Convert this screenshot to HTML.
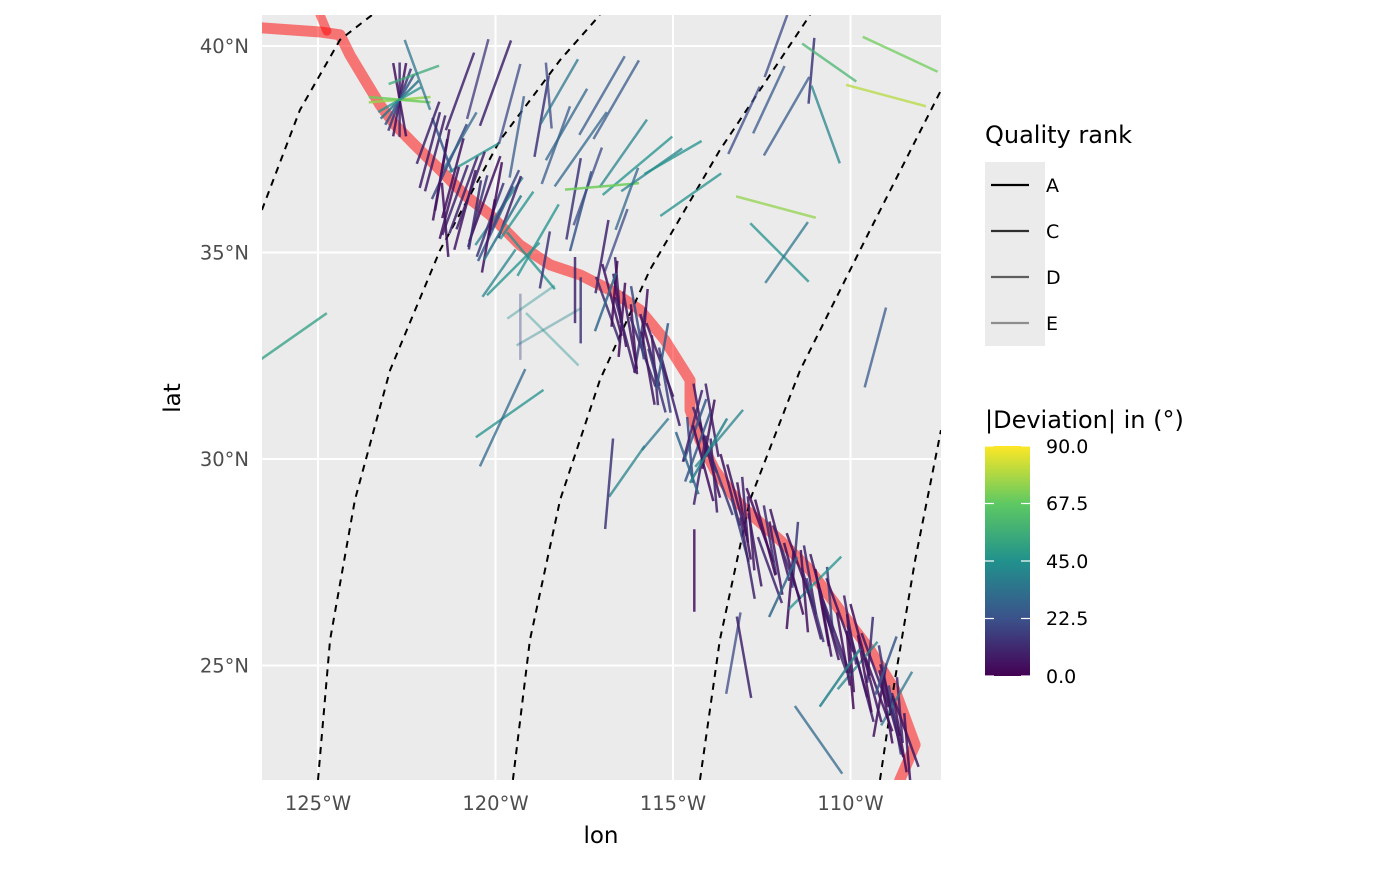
<!DOCTYPE html>
<html><head><meta charset="utf-8"><style>
body{margin:0;background:#fff;}
svg text{font-family:"DejaVu Sans","Liberation Sans",sans-serif;}
</style></head><body>
<svg id="chart" width="1400" height="865" xmlns="http://www.w3.org/2000/svg">
<defs>
<linearGradient id="vir" x1="0" y1="1" x2="0" y2="0">
<stop offset="0" stop-color="#440154"/><stop offset="0.25" stop-color="#3b528b"/><stop offset="0.5" stop-color="#21918c"/><stop offset="0.75" stop-color="#5ec962"/><stop offset="1" stop-color="#fde725"/>
</linearGradient>
<clipPath id="pc"><rect x="262" y="15" width="679" height="765"/></clipPath>
</defs>
<rect x="262" y="15" width="679" height="765" fill="#ebebeb"/>
<g id="grid"></g>
<g id="marks" clip-path="url(#pc)"></g>
<g id="axes"></g>
<text x="601" y="843" font-size="23" text-anchor="middle">lon</text>
<text transform="translate(180,398) rotate(-90)" font-size="23" text-anchor="middle">lat</text>
<g>
<text x="985" y="143" font-size="24">Quality rank</text>
<rect x="985" y="162" width="60" height="184" fill="#ebebeb"/>
<line x1="991" y1="185" x2="1029" y2="185" stroke="#000" stroke-width="2.2"/>
<line x1="991" y1="231" x2="1029" y2="231" stroke="#000" stroke-opacity="0.8" stroke-width="2.2"/>
<line x1="991" y1="277" x2="1029" y2="277" stroke="#000" stroke-opacity="0.6" stroke-width="2.2"/>
<line x1="991" y1="323" x2="1029" y2="323" stroke="#000" stroke-opacity="0.4" stroke-width="2.2"/>
<text x="1046" y="192" font-size="19">A</text>
<text x="1046" y="238" font-size="19">C</text>
<text x="1046" y="284" font-size="19">D</text>
<text x="1046" y="330" font-size="19">E</text>
</g>
<g>
<text x="985" y="428" font-size="24">|Deviation| in (°)</text>
<rect x="985" y="446" width="45" height="230" fill="url(#vir)"/>
<g stroke="#fff" stroke-width="1.2">
<line x1="985" y1="446" x2="994" y2="446"/><line x1="1021" y1="446" x2="1030" y2="446"/>
<line x1="985" y1="503.5" x2="994" y2="503.5"/><line x1="1021" y1="503.5" x2="1030" y2="503.5"/>
<line x1="985" y1="561" x2="994" y2="561"/><line x1="1021" y1="561" x2="1030" y2="561"/>
<line x1="985" y1="618.5" x2="994" y2="618.5"/><line x1="1021" y1="618.5" x2="1030" y2="618.5"/>
<line x1="985" y1="676" x2="994" y2="676"/><line x1="1021" y1="676" x2="1030" y2="676"/>
</g>
<g font-size="19">
<text x="1046" y="453">90.0</text>
<text x="1046" y="510">67.5</text>
<text x="1046" y="568">45.0</text>
<text x="1046" y="625">22.5</text>
<text x="1046" y="683">0.0</text>
</g>
</g>
</svg>
<script>
const lonTicks=[-125,-120,-115,-110];
const lonTickLabels=["125°W","120°W","115°W","110°W"];
const latTicks=[25,30,35,40];
const latTickLabels=["25°N","30°N","35°N","40°N"];
const boundaryLon=[-126.58,-124.94,-124.38,-124.10,-123.68,-123.25,-122.83,-122.27,-121.56,-120.86,-120.15,-119.31,-118.46,-117.62,-116.77,-115.93,-115.23,-114.52,-114.52,-114.24,-113.82,-113.11,-111.99,-111.14,-110.30,-109.45,-108.75,-108.18,-108.61];
const boundaryLat=[40.44,40.34,40.27,39.78,39.18,38.57,38.09,37.60,37.00,36.39,35.91,35.18,34.70,34.46,34.09,33.61,32.88,31.91,31.19,30.46,29.73,28.89,28.04,27.31,26.34,25.38,24.41,23.08,22.23];
const circlesLon=[[-126.58,-125.51,-124.38,-123.48],[-125,-124.66,-123.96,-122.97,-121.56,-119.87,-118.18,-117.06],[-119.51,-119.03,-118.18,-117.06,-115.65,-113.68,-111.14],[-114.24,-113.68,-112.83,-111.42,-109.45,-107.45],[-109.17,-108.75,-108.18,-107.45]];
const circlesLat=[[36.03,38.45,40.15,40.75],[22.23,25.62,29.01,32.15,35.06,37.72,39.66,40.75],[22.23,25.62,29.01,31.91,34.58,37.48,40.75],[22.23,25.62,29.01,32.15,35.54,38.93],[22.23,24.65,27.55,30.70]];
// stress measurements (group 1)
const segLon=[-122.7,-122.7,-122.7,-122.7,-122.7,-122.7,-122.7,-122.7,-122.7,-122.3,-122.2,-121.7,-121.5,-121.3,-121.0,-121.5,-120.9,-120.5,-120.3,-120.0,-119.9,-119.6,-119.4,-120.6,-121.0,-120.5,-120.0,-119.6,-119.4,-118.7,-118.5,-118.3,-118.0,-118.2,-117.6,-117.8,-117.6,-117.4,-117.0,-116.6,-116.4,-116.0,-117.0,-116.3,-115.6,-115.0,-114.5,-119.0,-118.8,-119.9,-119.5,-119.0,-118.5,-118.4,-119.3,-117.6,-117.0,-116.6,
-112.1,-112.3,-113.0,-111.8,-111.1,-110.7,-110.6,-108.6,-109.0,-112.1,-112.0,-111.8,-109.3,-125.8,-119.6,-119.8,-116.3,-116.8,-114.4,-113.3,-113.0,-110.9,-115.5,
-116.72,-116.55,-116.44,-116.83,-116.21,-115.93,-115.65,-115.51,-115.37,-115.23,-115.79,-115.08,
-114.24,-114.10,-114.52,-113.96,-114.24,-113.68,-114.38,-113.90,
-113.39,-112.97,-112.55,-112.27,-111.99,-111.56,-111.42,-111.14,-110.86,-110.58,-110.30,-110.01,-109.73,-109.45,-109.31,-109.03,-108.89,-108.61,-108.46,-108.75,-109.17,-109.59,-110.01,-110.44,-110.72,-111.00,-111.70,-112.27,-112.69,-113.11,
-121.85,-121.56,-121.14,-120.86,-120.58,-120.15,-119.73,-121.42,-117.76,-118.61,
-113.7,-111.0,-109.8,-108.7];
const segLat=[38.7,38.7,38.7,38.7,38.7,38.7,38.7,38.7,38.7,39.3,39.3,37.4,37.0,37.2,37.7,37.6,36.4,36.0,36.3,35.7,36.0,36.1,35.9,37.3,38.9,39.2,39.1,38.6,37.8,38.3,38.8,37.6,38.1,38.9,37.5,36.3,36.0,36.6,38.8,38.7,37.4,37.1,36.6,36.3,37.0,37.3,36.4,34.8,35.3,34.5,34.6,33.8,33.2,32.9,33.2,33.6,34.9,35.3,
40.0,38.7,38.2,38.3,39.4,38.1,39.6,39.8,38.8,36.1,35.0,35.0,32.7,32.9,31.1,31.0,29.7,29.4,27.3,25.3,25.2,23.2,30.6,
33.85,34.09,33.37,33.61,33.12,32.88,32.64,32.15,32.40,31.91,33.37,31.67,
30.94,30.46,30.22,29.98,29.73,29.49,30.70,30.94,
29.25,28.77,28.40,28.04,27.92,27.68,27.31,27.07,26.83,26.59,26.22,25.86,25.62,25.38,24.89,24.65,24.16,23.92,23.44,23.68,24.16,24.41,24.89,25.62,26.10,26.34,26.83,27.31,27.80,28.28,
37.48,36.76,36.27,36.03,35.91,35.79,36.27,35.79,34.09,34.82,
30.5,27.0,25.0,24.2];
const segAzimuth=[0,10,20,30,45,350,85,95,60,70,160,15,10,25,30,160,20,15,20,25,35,20,35,60,20,15,20,15,10,10,355,20,30,30,35,10,15,20,30,30,35,50,85,20,55,60,55,140,30,35,45,55,60,135,0,0,10,20,
20,25,25,30,5,160,125,115,105,105,135,35,15,55,55,25,35,5,0,10,170,145,40,
345,355,5,340,350,10,345,355,340,350,5,345,
350,340,355,345,10,340,20,350,
345,355,340,350,345,5,340,350,345,355,340,350,345,5,340,350,345,355,340,350,10,345,355,340,350,345,5,340,350,345,
15,10,20,15,10,20,25,355,0,10,
40,45,40,30];
const segLength=[1.8,1.8,1.6,1.4,1.3,1.8,1.5,1.5,1.2,1.3,1.8,1.9,2.0,2.0,1.6,1.4,2.0,1.8,2.2,2.0,2.0,1.6,1.4,1.4,2.0,2.0,2.2,2.0,2.0,2.0,1.6,2.0,2.0,1.8,2.2,2.0,2.0,2.0,2.2,2.2,2.0,2.2,1.8,1.6,1.8,1.6,1.8,1.8,2.0,1.4,1.8,1.4,1.8,1.8,1.6,1.6,1.8,1.6,
1.6,1.8,1.8,2.2,1.6,2.0,1.6,2.0,2.0,2.0,2.0,1.8,2.0,2.2,2.0,2.6,1.5,2.2,2.0,2.0,2.0,2.0,1.0,
1.8,1.6,1.8,1.7,1.9,1.6,1.8,1.7,1.9,1.6,1.5,1.8,
1.8,1.7,1.6,1.9,1.7,1.8,1.6,1.8,
1.8,1.6,1.9,1.7,1.8,1.6,1.9,1.7,1.8,1.6,1.9,1.7,1.8,1.6,1.9,1.7,1.8,1.6,1.9,1.7,1.8,1.6,1.9,1.7,1.8,1.6,1.9,1.7,1.8,1.6,
1.9,2.0,1.8,2.0,1.7,1.9,1.6,1.8,1.6,1.4,
1.8,1.8,1.5,1.5];
const segDeviation=[10,5,15,25,35,5,75,70,45,55,35,8,5,20,30,25,10,15,5,25,40,10,45,45,10,15,10,20,25,15,20,25,30,35,30,15,25,20,25,25,40,45,70,30,40,45,45,45,45,40,45,45,40,45,20,15,10,20,
20,25,20,25,15,40,60,70,80,75,45,35,25,50,45,30,40,15,5,20,10,30,35,
5,8,3,12,6,15,4,10,7,18,5,9,
6,12,20,4,10,15,25,8,
5,9,3,12,6,15,4,10,7,18,5,9,3,12,6,15,4,10,7,18,5,9,3,12,6,15,4,10,7,18,
8,5,10,6,12,15,20,5,10,15,
40,45,40,35];
const segQuality=["C","C","C","C","C","C","C","C","D","D","D","C","C","C","D","C","C","C","C","C","D","C","D","D","C","D","C","D","D","C","D","D","D","D","D","C","C","D","D","D","D","D","C","D","D","D","D","D","D","D","D","E","E","E","E","C","C","D",
"D","D","D","D","C","D","D","D","D","D","D","D","D","D","D","D","D","C","C","D","C","D","D",
"C","C","C","C","C","C","C","C","C","C","C","C",
"C","C","C","C","C","C","C","C",
"C","C","C","C","C","C","C","C","C","C","C","C","C","C","C","C","C","C","C","C","C","C","C","C","C","C","C","C","C","C",
"C","C","C","C","C","C","C","C","C","C",
"D","D","D","D"];
// stress measurements (group 2, dense boundary zone)
const denseLon=[-116.5,-116.35,-116.1,-115.85,-115.7,-115.45,-116.65,-116.0,-115.3,-116.9,
-114.45,-114.3,-114.0,-114.15,-113.85,-114.6,-114.0,
-113.2,-113.0,-112.8,-112.4,-112.1,-111.8,-111.6,-111.3,-111.1,-110.8,-110.6,-110.4,-110.2,-110.0,-109.8,-109.6,-109.4,-109.2,-109.0,-108.8,-108.6,-108.4,-112.9,-111.9,-110.3,-109.0,
-121.2,-120.7,-120.2,-119.8,-121.9,-121.3,-120.0];
const denseLat=[33.6,33.0,32.9,32.6,32.2,31.9,34.0,33.3,32.5,33.8,
30.8,30.3,30.6,29.9,29.6,29.9,30.2,
29.0,28.5,28.2,28.1,27.6,27.5,27.1,26.8,26.5,26.4,26.0,25.7,25.4,25.3,25.1,24.8,24.5,24.3,24.0,23.7,23.3,23.0,27.6,26.9,24.7,25.0,
36.8,36.5,35.4,35.6,37.9,36.2,36.3];
const denseAzimuth=[350,345,355,340,350,345,5,350,10,20,
15,20,10,345,355,340,30,
345,350,355,345,350,340,345,355,345,350,345,340,350,355,345,350,345,340,350,345,350,355,350,25,35,20,
15,20,10,30,20,15,10];
const denseLength=[1.8,1.9,1.7,1.8,1.8,1.6,1.6,1.8,1.6,1.5,
1.8,1.8,1.7,1.9,1.8,1.6,1.8,
1.8,1.9,1.8,1.9,1.8,1.9,1.8,2.0,1.8,1.9,1.8,1.9,1.8,1.9,1.8,1.9,1.8,1.9,1.8,1.9,1.8,1.7,2.0,1.6,1.7,1.5,
2.0,2.0,1.8,1.8,1.6,1.8,1.8];
const denseDeviation=[5,8,4,12,6,15,3,20,25,30,
10,25,5,4,8,30,40,
5,4,7,3,6,10,4,5,8,3,6,9,4,5,7,3,6,5,4,6,3,5,10,30,40,25,
5,8,5,35,10,5,3];

const X=lon=>318+(lon+125)*35.5;
const Y=lat=>46+(40-lat)*41.3;
const NS="http://www.w3.org/2000/svg";
function mk(tag,attrs,parent){const e=document.createElementNS(NS,tag);for(const k in attrs)e.setAttribute(k,attrs[k]);parent.appendChild(e);return e;}
const stops=[[0x44,0x01,0x54],[0x3b,0x52,0x8b],[0x21,0x91,0x8c],[0x5e,0xc9,0x62],[0xfd,0xe7,0x25]];
function viridis(t){t=Math.max(0,Math.min(1,t))*4;const i=Math.min(3,Math.floor(t)),f=t-i;const a=stops[i],b=stops[i+1];return `rgb(${a.map((v,k)=>Math.round(v+(b[k]-v)*f)).join(',')})`;}
const grid=document.getElementById('grid'),marks=document.getElementById('marks'),axes=document.getElementById('axes');
lonTicks.forEach((t,i)=>{
 const l=mk('line',{x1:X(t),x2:X(t),y1:15,y2:780,stroke:'#fff','stroke-width':2},grid);
 
 
 const tx=mk('text',{x:X(t),y:810,'font-size':19.5,fill:'#4d4d4d','text-anchor':'middle'},axes);
 tx.textContent=lonTickLabels[i];
 
 
});
latTicks.forEach((t,i)=>{
 const l=mk('line',{x1:262,x2:941,y1:Y(t),y2:Y(t),stroke:'#fff','stroke-width':2},grid);
 
 
 const tx=mk('text',{x:249,y:Y(t)+7,'font-size':19.5,fill:'#4d4d4d','text-anchor':'end'},axes);
 tx.textContent=latTickLabels[i];
 
 
});
const bp=boundaryLon.map((v,i)=>X(v)+','+Y(boundaryLat[i])).join(' ');
const pb=mk('polyline',{points:bp,fill:'none',stroke:'#ff0000','stroke-opacity':0.5,'stroke-width':11,'stroke-linejoin':'round','stroke-linecap':'round'},marks);


const pb2=mk('line',{x1:X(-124.94),y1:Y(40.75),x2:X(-124.75),y2:Y(40.36),stroke:'#ff0000','stroke-opacity':0.5,'stroke-width':9,'stroke-linecap':'round'},marks);


circlesLon.forEach((arr,j)=>{
 const pts=arr.map((v,i)=>X(v)+','+Y(circlesLat[j][i])).join(' ');
 const c=mk('polyline',{points:pts,fill:'none',stroke:'#000','stroke-width':2,'stroke-dasharray':'7,6'},marks);
 
 
});
const qAlpha={A:1,C:0.85,D:0.75,E:0.4};
function seg(lon,lat,az,len,dev,alpha){
 const cx=X(lon),cy=Y(lat),h=len*41.3/2,a=az*Math.PI/180;
 const dx=Math.sin(a)*h,dy=-Math.cos(a)*h;
 const s=mk('line',{x1:cx-dx,y1:cy-dy,x2:cx+dx,y2:cy+dy,stroke:viridis(dev/90),'stroke-opacity':alpha,'stroke-width':2.5},marks);
 
 
}
segLon.forEach((lon,i)=>seg(lon,segLat[i],segAzimuth[i],segLength[i],segDeviation[i],qAlpha[segQuality[i]]));
denseLon.forEach((lon,i)=>seg(lon,denseLat[i],denseAzimuth[i],denseLength[i],denseDeviation[i],0.85));
</script>
</body></html>
